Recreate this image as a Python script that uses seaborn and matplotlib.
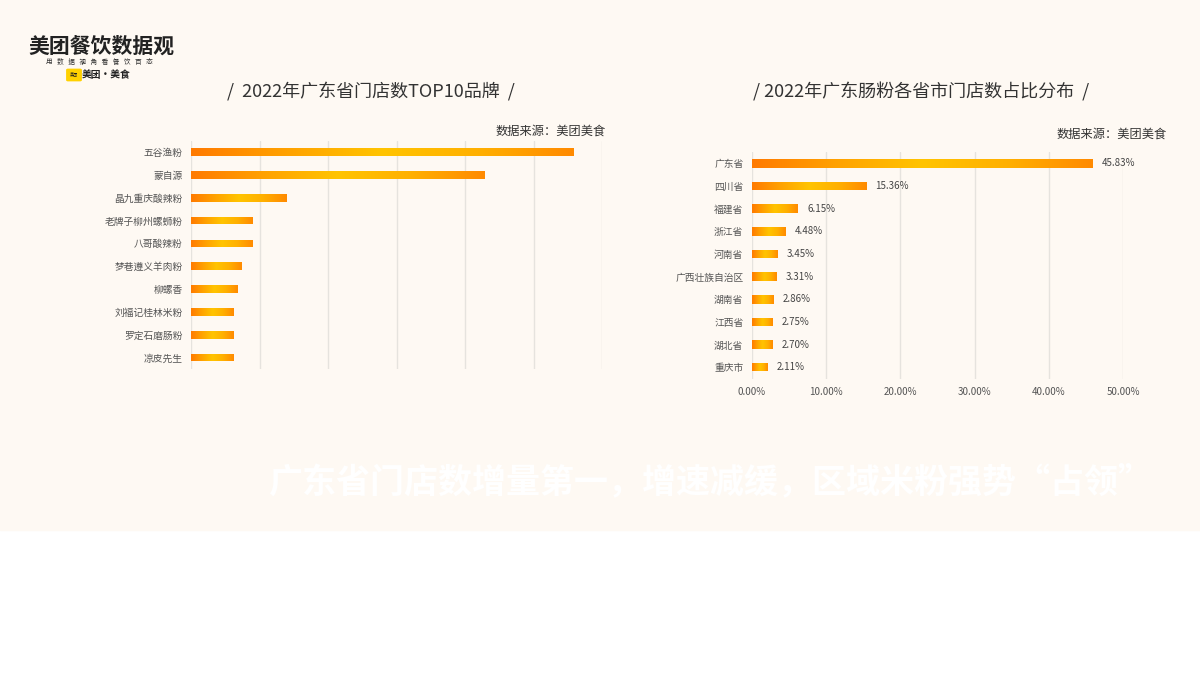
import numpy as np
import pandas as pd
import seaborn as sns
import matplotlib
matplotlib.use('Agg')
import matplotlib.pyplot as plt
from matplotlib.colors import LinearSegmentedColormap
from matplotlib.patches import Rectangle, FancyBboxPatch

# data
brands = ['五谷渔粉', '蒙自源', '晶九重庆酸辣粉', '老牌子柳州螺蛳粉', '八哥酸辣粉',
          '梦巷遵义羊肉粉', '柳螺香', '刘福记桂林米粉', '罗定石磨肠粉', '凉皮先生']
brand_stores = [1117, 855, 279, 180, 180, 148, 135, 125, 123, 123]

provinces = ['广东省', '四川省', '福建省', '浙江省', '河南省',
             '广西壮族自治区', '湖南省', '江西省', '湖北省', '重庆市']
province_share = [45.83, 15.36, 6.15, 4.48, 3.45, 3.31, 2.86, 2.75, 2.70, 2.11]
share_ticks = [0, 10, 20, 30, 40, 50]

title_left = '/  2022年广东省门店数TOP10品牌  /'
title_right = '/ 2022年广东肠粉各省市门店数占比分布  /'
source = '数据来源：美团美食'
headline = '广东省门店数增量第一，增速减缓，区域米粉强势“占领”'

sns.set_theme(style='white')
plt.rcParams['font.family'] = ['Noto Sans CJK SC', 'DejaVu Sans']
plt.rcParams['axes.unicode_minus'] = False

BG = '#FEF9F3'
GRID = '#E6E3DE'
TXT = '#555555'

fig = plt.figure(figsize=(12, 6.76), dpi=100)
fig.patch.set_facecolor('white')
fig.add_artist(Rectangle((0, 1 - 530 / 676), 1, 530 / 676,
                         transform=fig.transFigure, color=BG, zorder=0))

grad_cmap = LinearSegmentedColormap.from_list(
    'bar', ['#FF7A00', '#FFA200', '#FFC400', '#FFB000', '#FF8A00'])
grad = np.linspace(0, 1, 256).reshape(1, -1)


def gradient_bars(ax):
    for p in ax.patches:
        x0, y0 = p.get_x(), p.get_y()
        w, h = p.get_width(), p.get_height()
        im = ax.imshow(grad, cmap=grad_cmap, aspect='auto',
                       extent=(x0, x0 + w, y0 + h, y0), zorder=3,
                       interpolation='bicubic')
        im.set_clip_path(p)
        p.set_alpha(0)


def style_axes(ax):
    ax.set_facecolor('none')
    for s in ax.spines.values():
        s.set_visible(False)
    ax.grid(axis='x', color=GRID, linewidth=1)
    ax.grid(axis='y', visible=False)
    ax.set_axisbelow(True)
    ax.set_xlabel('')
    ax.set_ylabel('')
    ax.tick_params(axis='y', length=0, pad=6, labelsize=7, labelcolor=TXT)


# left chart
ax1 = fig.add_axes([0.15917, 0.4541, 0.34275, 0.3379])
df1 = pd.DataFrame({'brand': brands, 'stores': brand_stores})
sns.barplot(data=df1, y='brand', x='stores', orient='h', width=0.34,
            color='#FFA200', ax=ax1)
ax1.set_xlim(0, 1200)
ax1.set_xticks(np.arange(0, 1201, 200))
ax1.tick_params(axis='x', length=0, labelbottom=False)
ax1.set_ylim(9.5, -0.5)
style_axes(ax1)
gradient_bars(ax1)

# right chart
ax2 = fig.add_axes([0.6264, 0.4399, 0.3097, 0.3352])
df2 = pd.DataFrame({'province': provinces, 'share': province_share})
sns.barplot(data=df2, y='province', x='share', orient='h', width=0.37,
            color='#FFA200', ax=ax2)
ax2.set_xlim(0, 50)
ax2.set_xticks(share_ticks)
ax2.set_xticklabels(['%.2f%%' % t for t in share_ticks])
ax2.tick_params(axis='x', length=0, pad=6, labelsize=7, labelcolor=TXT)
ax2.set_ylim(9.5, -0.5)
style_axes(ax2)
gradient_bars(ax2)
for i, v in enumerate(province_share):
    ax2.annotate('%.2f%%' % v, (v, i), xytext=(7, 0), textcoords='offset points',
                 va='center', ha='left', fontsize=7, color='#444444')

# titles and sources
fig.text(371 / 1200, 1 - 92 / 676, title_left, ha='center', va='center',
         fontsize=13, color='#333333')
fig.text(921 / 1200, 1 - 92 / 676, title_right, ha='center', va='center',
         fontsize=13, color='#333333')
fig.text(606 / 1200, 1 - 131 / 676, source, ha='right', va='center',
         fontsize=8.8, color='#333333')
fig.text(1167 / 1200, 1 - 134 / 676, source, ha='right', va='center',
         fontsize=8.8, color='#333333')

# logo
fig.text(28 / 1200, 1 - 46 / 676, '美团餐饮数据观', ha='left', va='center',
         fontsize=15, fontweight='bold', color='#222222')
fig.text(99 / 1200, 1 - 62 / 676, '用   数   据   视   角   看   餐   饮   百   态',
         ha='center', va='center', fontsize=4.8, color='#333333')
fig.add_artist(FancyBboxPatch((68 / 1200, 1 - 80 / 676), 12 / 1200, 10 / 676,
                              boxstyle='round,pad=0.001',
                              transform=fig.transFigure, color='#FFD100'))
fig.text(74 / 1200, 1 - 75 / 676, '美团', ha='center', va='center',
         fontsize=3, color='#222222')
fig.text(82 / 1200, 1 - 75 / 676, '美团·美食', ha='left', va='center',
         fontsize=7, fontweight='bold', color='#222222')

# headline
fig.text(710 / 1200, 1 - 482 / 676, headline, ha='center', va='center',
         fontsize=24.5, fontweight='bold', color='white')

plt.savefig('out.png', dpi=100, facecolor=fig.get_facecolor())
plt.close()
